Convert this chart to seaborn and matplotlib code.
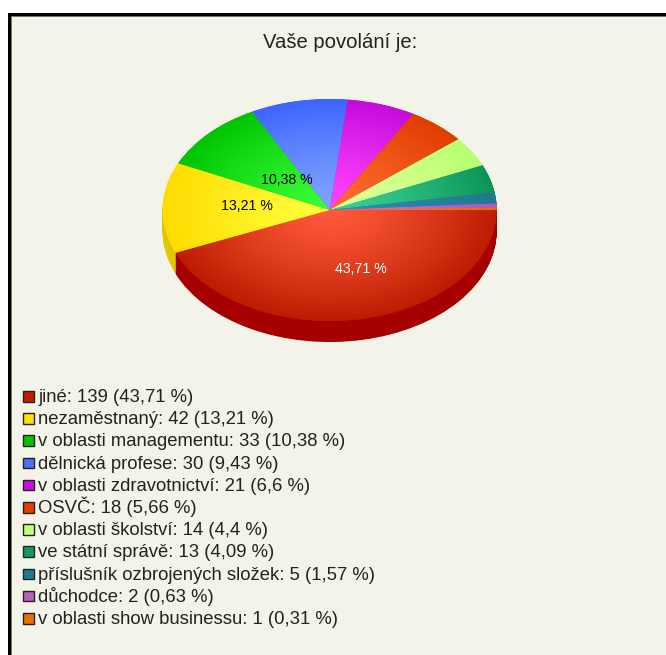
import numpy as np
import matplotlib
matplotlib.use("Agg")
import matplotlib.pyplot as plt
from matplotlib.colors import to_rgb
from matplotlib.patches import Rectangle
import seaborn as sns

categories = ["jiné", "nezaměstnaný", "v oblasti managementu", "dělnická profese",
              "v oblasti zdravotnictví", "OSVČ", "v oblasti školství", "ve státní správě",
              "příslušník ozbrojených složek", "důchodce", "v oblasti show businessu"]
counts = [139, 42, 33, 30, 21, 18, 14, 13, 5, 2, 1]
percents = ["43,71", "13,21", "10,38", "9,43", "6,6", "5,66", "4,4", "4,09", "1,57", "0,63", "0,31"]
inner_colors = ["#FF5A3A", "#FFFF3C", "#38FF38", "#80A4FF", "#FF44FF", "#FF6E32",
                "#E0FF9C", "#40D296", "#2C90B0", "#D070D0", "#F08020"]
edge_colors = ["#BC1C00", "#FFDC00", "#00C400", "#3C64FF", "#C40ADC", "#E03C00",
               "#B8FF70", "#0C9458", "#1E7890", "#B058B8", "#E87000"]
side_colors = ["#A60000", "#E0C800", "#00A000", "#3050D0", "#A000B0", "#B83000",
               "#98D860", "#087840", "#186078", "#904898", "#C05800"]
legend_colors = ["#C01E00", "#FFE000", "#00C400", "#4C70FF", "#C810DC", "#E04000",
                 "#C0FF78", "#109A60", "#1C7C94", "#B860C0", "#E87000"]
shown_labels = [("43,71 %", 361, 269, "white"), ("13,21 %", 247, 206, "black"),
                ("10,38 %", 287, 180, "black")]

W, H = 666, 655
BG = "#F4F3EA"
sns.set_theme(style="white", rc={"figure.facecolor": "white", "savefig.facecolor": "white"})
plt.rcParams["font.family"] = ["Liberation Sans", "DejaVu Sans"]

fig = plt.figure(figsize=(W / 100, H / 100), dpi=100)

# frame / panel, figure pixel coordinates (y down)
bgax = fig.add_axes([0, 0, 1, 1], zorder=0)
bgax.set_xlim(0, W)
bgax.set_ylim(H, 0)
bgax.axis("off")
bgax.add_patch(Rectangle((8, 13), W, H, fc="black", ec="none"))
bgax.add_patch(Rectangle((11, 16), W, H, fc="#77776f", ec="none"))
bgax.add_patch(Rectangle((12, 17), W, H, fc=BG, ec="none"))
bgax.text(340, 43, "Vaše povolání je:", ha="center", va="center", fontsize=14.6, color="#222222")

# pie axes: unit circle maps to an ellipse
cx, cy, rx, ry, depth = 329.7, 210.0, 167.0, 111.0, 21.0
xm, ytop, ybot = 1.05, 1.05, 1.30
ax = fig.add_axes([(cx - xm * rx) / W, 1 - (cy + ybot * ry) / H,
                   2 * xm * rx / W, (ytop + ybot) * ry / H], zorder=1)
ax.patch.set_alpha(0)

# side wall: stacked copies, bottom to top
for off in np.arange(depth, 0, -0.5):
    ax.pie(counts, colors=side_colors, startangle=0, counterclock=False,
           center=(0, -off / ry), radius=1.0, wedgeprops={"linewidth": 0.3, "edgecolor": "none"})

# top face with radial gradient
wedges, _ = ax.pie(counts, colors=edge_colors, startangle=0, counterclock=False,
                   radius=1.0, wedgeprops={"linewidth": 0})
n = 500
xx, yy = np.meshgrid(np.linspace(-1, 1, n), np.linspace(-1, 1, n))
t = (np.clip(np.hypot(xx, yy), 0, 1) ** 1.25)[..., None]
for w, ic, ec in zip(wedges, inner_colors, edge_colors):
    img = np.array(to_rgb(ic)) * (1 - t) + np.array(to_rgb(ec)) * t
    im = ax.imshow(img, extent=(-1, 1, -1, 1), origin="lower", aspect="auto",
                   interpolation="bilinear", zorder=w.get_zorder() + 0.1)
    im.set_clip_path(w)

ax.set_aspect("auto")
ax.set_xlim(-xm, xm)
ax.set_ylim(-ybot, ytop)
ax.axis("off")

# value labels on slices
lab_ax = fig.add_axes([0, 0, 1, 1], zorder=2)
lab_ax.set_xlim(0, W)
lab_ax.set_ylim(H, 0)
lab_ax.axis("off")
for txt, px, py, col in shown_labels:
    lab_ax.text(px, py, txt, ha="center", va="center", fontsize=10.2, color=col)

# legend rows, evenly spaced
labels = [f"{c}: {v} ({p} %)" for c, v, p in zip(categories, counts, percents)]
row_h = 22.2
for i, (lab, col) in enumerate(zip(labels, legend_colors)):
    lab_ax.add_patch(Rectangle((23, 391 + row_h * i), 10.5, 10.5, fc=col, ec="#222222", lw=1.0))
    lab_ax.text(38, 402 + row_h * i, lab, ha="left", va="baseline", fontsize=13.3, color="#222222")

fig.savefig("out.png", dpi=100)
